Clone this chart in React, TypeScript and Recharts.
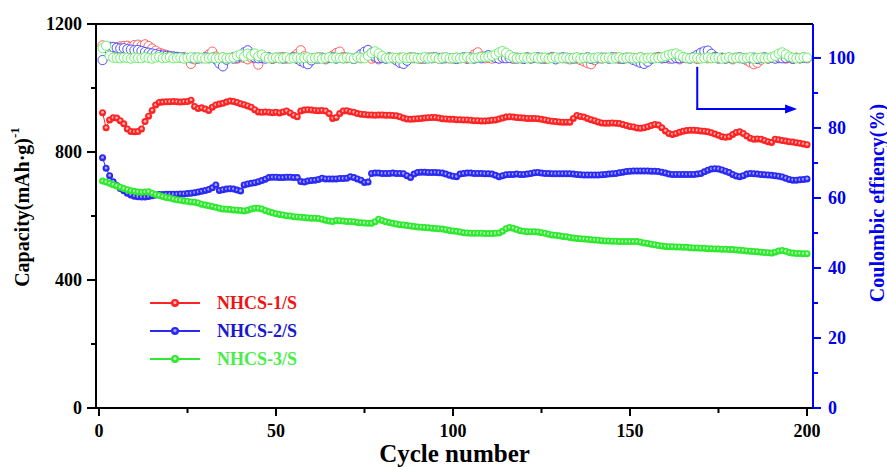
import React from 'react';
import { LineChart, Line, XAxis, YAxis, ReferenceLine, Legend } from 'recharts';

const FONT = "'Liberation Serif', 'Times New Roman', 'DejaVu Serif', serif";

// cycle numbers (x categories)
const cycles = Array.from({ length: 200 }, (_, i) => i + 1);

// discharge capacity, mAh/g
const cap1 = [
  923, 876, 900, 907, 906, 898, 888, 872, 864, 863,
  864, 872, 895, 912, 930, 947, 955, 956, 957, 957,
  958, 957, 956, 957, 958, 962, 942, 936, 938, 934,
  930, 940, 947, 950, 952, 956, 959, 958, 955, 951,
  948, 944, 940, 932, 925, 924, 925, 924, 923, 924,
  922, 925, 928, 922, 915, 910, 928, 931, 932, 931,
  930, 929, 930, 928, 920, 905, 908, 920, 928, 929,
  926, 924, 920, 918, 917, 916, 916, 915, 916, 916,
  915, 915, 914, 913, 910, 906, 903, 902, 903, 904,
  905, 906, 907, 908, 908, 906, 904, 903, 902, 902,
  901, 901, 900, 900, 899, 898, 898, 897, 897, 898,
  899, 900, 903, 906, 909, 910, 909, 908, 907, 906,
  905, 905, 905, 904, 902, 900, 898, 896, 895, 894,
  893, 893, 893, 905, 914, 911, 909, 905, 901, 898,
  894, 891, 890, 890, 891, 890, 889, 886, 883, 880,
  878, 875, 874, 876, 879, 883, 886, 884, 876, 866,
  858, 855, 858, 862, 865, 867, 868, 868, 867, 866,
  865, 863, 860, 856, 852, 848, 846, 848, 855, 861,
  863, 858, 850, 843, 840, 841, 840, 836, 832, 830,
  840, 838, 836, 834, 832, 831, 829, 827, 825, 823,
];
const cap2 = [
  782, 749, 726, 707, 695, 686, 679, 671, 666, 662,
  660, 659, 659, 661, 663, 666, 667, 667, 668, 668,
  668, 668, 669, 669, 670, 671, 673, 675, 677, 680,
  683, 688, 697, 680, 682, 684, 685, 684, 681, 678,
  697, 700, 702, 704, 707, 711, 715, 720, 721, 721,
  720, 720, 721, 721, 720, 720, 708, 706, 709, 711,
  712, 714, 718, 716, 716, 716, 716, 717, 717, 718,
  723, 720, 716, 712, 705, 706, 733, 734, 734, 733,
  733, 733, 734, 733, 733, 732, 726, 720, 731, 736,
  737, 737, 736, 736, 736, 735, 734, 731, 727, 724,
  723, 731, 733, 734, 734, 733, 733, 733, 732, 732,
  731, 727, 723, 726, 729, 730, 730, 731, 730, 730,
  731, 733, 735, 736, 734, 733, 733, 732, 732, 732,
  732, 732, 732, 731, 730, 729, 728, 728, 728, 728,
  728, 729, 730, 731, 732, 733, 735, 737, 739, 740,
  741, 741, 741, 741, 741, 740, 740, 739, 737, 734,
  731, 730, 730, 730, 730, 730, 730, 730, 731, 733,
  738, 743, 747, 748, 747, 744, 740, 736, 730, 725,
  723, 726, 731, 733, 732, 731, 730, 729, 728, 727,
  726, 724, 722, 718, 714, 712, 712, 713, 714, 716,
];
const cap3 = [
  709, 706, 702, 698, 694, 690, 686, 682, 679, 677,
  675, 674, 675, 676, 671, 667, 664, 661, 658, 656,
  653, 651, 649, 647, 646, 644, 643, 641, 637, 634,
  632, 630, 627, 624, 622, 621, 620, 619, 618, 617,
  616, 618, 622, 624, 624, 622, 617, 613, 610, 607,
  605, 603, 601, 600, 598, 597, 596, 595, 594, 593,
  593, 592, 590, 587, 584, 583, 586, 585, 584, 583,
  583, 582, 580, 579, 578, 577, 577, 582, 590, 586,
  582, 580, 577, 575, 573, 572, 570, 569, 567, 566,
  565, 564, 563, 562, 561, 560, 559, 557, 555, 553,
  552, 550, 548, 547, 546, 546, 546, 546, 545, 545,
  545, 546, 547, 552, 560, 564, 562, 558, 554, 552,
  551, 551, 551, 550, 548, 546, 543, 541, 540, 538,
  536, 535, 533, 531, 530, 529, 528, 527, 526, 525,
  524, 523, 522, 522, 521, 521, 520, 520, 520, 520,
  520, 520, 518, 516, 514, 512, 510, 508, 506, 505,
  504, 504, 503, 503, 502, 502, 501, 500, 500, 499,
  499, 498, 498, 497, 497, 496, 496, 495, 495, 494,
  493, 492, 491, 490, 489, 488, 487, 486, 485, 484,
  487, 491, 492, 490, 486, 484, 483, 483, 482, 482,
];

// coulombic efficiency, %
const ce1 = [
  103.6, 102.8, 102.6, 102.9, 103.1, 103.3, 103.4, 103.5, 103.2, 103.7,
  103.8, 103.5, 103.9, 103.4, 102.7, 102.1, 101.5, 101.2, 100.9, 100.6,
  100.4, 100.3, 100.1, 100.2, 99.8, 98.3, 99.6, 100.1, 99.9, 100.2,
  101.0, 101.8, 100.4, 99.9, 100.1, 99.7, 100.0, 100.3, 99.8, 100.2,
  100.0, 99.6, 100.1, 99.8, 98.1, 99.9, 100.2, 100.0, 99.7, 100.1,
  99.9, 100.3, 99.8, 100.0, 100.4, 101.2, 102.2, 100.5, 99.7, 100.0,
  99.8, 100.2, 100.0, 99.6, 100.1, 100.7, 101.4, 101.8, 100.3, 99.9,
  100.0, 99.7, 100.2, 99.9, 100.1, 100.3, 99.8, 100.0, 99.6, 100.1,
  99.9, 100.2, 100.0, 99.8, 100.1, 99.7, 100.0, 100.2, 99.9, 100.0,
  99.7, 100.1, 99.9, 100.2, 100.0, 99.8, 100.1, 99.9, 100.0, 99.8,
  100.1, 99.9, 100.0, 99.7, 100.2, 101.0, 101.6, 100.4, 99.9, 100.0,
  99.8, 100.1, 100.0, 99.9, 100.2, 100.0, 99.7, 100.1, 99.9, 100.0,
  100.2, 99.8, 100.0, 99.9, 100.1, 99.7, 100.0, 100.3, 99.8, 100.0,
  99.9, 100.1, 99.6, 100.0, 99.8, 99.4, 99.0, 98.5, 98.2, 99.4,
  100.0, 99.8, 100.1, 99.9, 100.0, 100.2, 99.7, 100.0, 99.9, 100.1,
  100.0, 99.8, 100.2, 99.9, 100.0, 99.7, 100.1, 100.3, 99.9, 100.0,
  99.8, 100.1, 100.0, 99.6, 100.2, 99.9, 100.0, 100.1, 99.7, 100.0,
  100.2, 99.9, 100.0, 100.4, 99.8, 100.1, 99.9, 100.0, 99.6, 100.1,
  99.9, 100.0, 99.3, 98.7, 98.2, 98.6, 99.5, 100.0, 99.8, 100.1,
  100.0, 99.9, 100.2, 99.8, 100.0, 99.7, 100.1, 99.9, 100.0, 99.9,
];
const ce2 = [
  99.4, 102.8, 103.2, 103.1, 102.9, 102.7, 102.8, 102.5, 102.4, 102.2,
  102.3, 102.0, 101.7, 101.5, 101.3, 101.1, 100.9, 100.7, 100.6, 100.5,
  100.4, 100.3, 100.2, 100.1, 100.0, 99.9, 100.1, 99.8, 100.0, 100.2,
  99.9, 100.1, 99.6, 98.4, 97.6, 99.5, 100.0, 99.8, 100.1, 100.5,
  101.6, 102.2, 101.0, 100.1, 99.9, 100.0, 99.8, 100.2, 99.9, 100.0,
  100.1, 99.8, 100.0, 99.9, 100.2, 99.7, 99.1, 98.6, 98.2, 99.3,
  100.0, 99.8, 100.1, 99.9, 100.0, 100.2, 99.8, 100.0, 99.9, 100.1,
  100.0, 99.7, 100.3, 101.1, 101.8, 102.3, 101.5, 100.4, 99.9, 100.0,
  99.8, 100.1, 99.9, 99.3, 98.6, 98.3, 99.2, 100.0, 100.1, 99.9,
  100.0, 99.8, 100.1, 99.9, 100.2, 100.0, 99.8, 100.1, 99.9, 100.0,
  99.7, 100.0, 100.2, 99.9, 100.1, 99.8, 100.0, 99.9, 100.4, 100.8,
  100.5, 100.0, 99.8, 100.1, 99.9, 100.0, 100.2, 99.8, 100.0, 99.7,
  100.1, 99.9, 100.0, 100.2, 99.8, 100.0, 99.9, 100.1, 99.6, 100.0,
  100.2, 99.9, 100.0, 99.8, 100.1, 99.9, 100.0, 100.2, 99.7, 100.0,
  99.9, 100.1, 100.0, 99.8, 100.2, 99.9, 100.0, 99.7, 100.1, 99.9,
  99.4, 99.0, 98.6, 98.3, 98.9, 99.8, 100.0, 100.1, 99.9, 100.0,
  100.2, 99.8, 100.0, 99.9, 100.1, 100.0, 99.8, 100.3, 100.9, 101.5,
  101.9, 102.1, 101.2, 100.3, 99.9, 100.0, 99.8, 100.1, 99.9, 100.0,
  100.2, 99.8, 100.0, 99.9, 100.1, 99.7, 100.0, 100.2, 99.9, 100.0,
  99.8, 100.1, 99.9, 100.0, 100.2, 99.8, 100.0, 99.9, 100.1, 100.0,
];
const ce3 = [
  102.8, 103.5, 100.6, 100.1, 100.0, 99.9, 100.1, 100.0, 99.8, 100.1,
  100.0, 99.9, 100.2, 100.0, 99.8, 100.1, 100.3, 99.9, 100.0, 100.2,
  99.9, 100.0, 100.1, 99.8, 100.0, 100.2, 99.9, 100.1, 100.0, 99.8,
  100.0, 100.1, 99.9, 100.0, 100.2, 99.9, 100.0, 100.1, 100.6, 101.0,
  100.4, 101.2, 100.7, 101.3, 100.5, 101.0, 100.3, 99.9, 100.0, 100.1,
  99.9, 100.0, 100.2, 99.8, 100.0, 100.1, 99.9, 100.0, 100.2, 99.9,
  100.0, 100.1, 99.8, 100.0, 100.2, 99.9, 100.1, 100.0, 99.9, 100.1,
  100.0, 99.8, 100.2, 100.0, 99.9, 100.6, 101.4, 101.9, 101.3, 100.6,
  100.0, 99.9, 100.1, 100.0, 99.8, 100.2, 99.9, 100.0, 100.1, 99.9,
  100.0, 100.2, 99.9, 100.0, 100.1, 99.8, 100.0, 100.2, 99.9, 100.0,
  100.1, 99.9, 100.0, 100.2, 99.8, 100.0, 100.1, 100.3, 100.2, 100.4,
  100.6, 101.0, 101.6, 102.0, 101.5, 100.8, 100.2, 99.9, 100.0, 100.1,
  99.9, 100.0, 100.2, 99.9, 100.0, 100.1, 99.8, 100.0, 100.2, 99.9,
  100.0, 100.1, 99.9, 100.0, 100.2, 99.8, 100.0, 100.1, 99.9, 100.0,
  100.2, 99.9, 100.0, 100.1, 99.8, 100.0, 100.2, 99.9, 100.0, 100.1,
  99.9, 100.0, 100.2, 99.8, 100.0, 100.1, 99.9, 100.0, 100.2, 100.5,
  100.9, 101.1, 101.3, 100.8, 100.3, 100.0, 99.9, 100.1, 100.0, 99.8,
  100.0, 100.2, 99.9, 100.0, 100.1, 99.8, 100.0, 100.2, 99.9, 100.0,
  100.1, 99.9, 100.0, 100.2, 99.8, 100.0, 100.1, 99.9, 100.0, 100.2,
  100.6, 101.2, 101.6, 101.0, 100.4, 100.1, 99.9, 100.0, 100.2, 100.1,
];

const xTicks = [0, 25, 50, 75, 100, 125, 150, 175, 200];
const capTicks = [0, 200, 400, 600, 800, 1000, 1200];
const ceTicks = [0, 10, 20, 30, 40, 50, 60, 70, 80, 90, 100];

const series = [
  { name: 'NHCS-1/S', cap: 'c1', ce: 'e1', color: '#ff2424', light: '#ffb8b8', ring: '#ff6060', text: '#ee1414' },
  { name: 'NHCS-2/S', cap: 'c2', ce: 'e2', color: '#2a2af2', light: '#a8a8ff', ring: '#5050ff', text: '#1818cc' },
  { name: 'NHCS-3/S', cap: 'c3', ce: 'e3', color: '#30e830', light: '#c0ffc0', ring: '#70ee70', text: '#48ee48' },
];

const data = cycles.map((c, i) => ({
  cycle: c,
  c1: cap1[i], c2: cap2[i], c3: cap3[i],
  e1: ce1[i], e2: ce2[i], e3: ce3[i],
}));

const sphereDot = (color: string, light: string) => (p: any) => {
  if (p.cx == null || p.cy == null) return <g key={p.index} />;
  return (
    <g key={`s-${p.index}`}>
      <circle cx={p.cx} cy={p.cy} r={3.5} fill={color} />
      <circle cx={p.cx} cy={p.cy - 0.3} r={1.4} fill={light} />
    </g>
  );
};

const ringDot = (color: string) => (p: any) => {
  if (p.cx == null || p.cy == null) return <g key={p.index} />;
  return <circle key={`r-${p.index}`} cx={p.cx} cy={p.cy} r={4.6} fill="#fff" stroke={color} strokeWidth={1} />;
};

const BottomTick = ({ x, y, payload }: any) => {
  const major = payload.value % 50 === 0;
  return (
    <g>
      <line x1={x} y1={y} x2={x} y2={y + (major ? 8 : 5)} stroke="#000" strokeWidth={2} />
      {major && (
        <text x={x} y={y + 29} textAnchor="middle" style={{ fontFamily: FONT }} fontWeight="bold" fontSize={18} fill="#000">
          {payload.value}
        </text>
      )}
    </g>
  );
};

const LeftTick = ({ x, y, payload }: any) => {
  const major = payload.value % 400 === 0;
  return (
    <g>
      <line x1={x - (major ? 9 : 5)} y1={y} x2={x} y2={y} stroke="#000" strokeWidth={2} />
      {major && (
        <text x={x - 14} y={y + 6} textAnchor="end" style={{ fontFamily: FONT }} fontWeight="bold" fontSize={18} fill="#000">
          {payload.value}
        </text>
      )}
    </g>
  );
};

const RightTick = ({ x, y, payload }: any) => {
  const major = payload.value % 20 === 0;
  return (
    <g>
      <line x1={x} y1={y} x2={x + (major ? 8 : 5)} y2={y} stroke="#0000ff" strokeWidth={2} />
      {major && (
        <text x={x + 15} y={y + 6} textAnchor="start" style={{ fontFamily: FONT }} fontWeight="bold" fontSize={18} fill="#0000ee">
          {payload.value}
        </text>
      )}
    </g>
  );
};

const XTitle = (props: any) => {
  const vb = props.viewBox || { x: 96, y: 408, width: 717, height: 59 };
  return (
    <text x={vb.x + vb.width / 2} y={vb.y + 54} textAnchor="middle" style={{ fontFamily: FONT }} fontWeight="bold" fontSize={25} fill="#000">
      Cycle number
    </text>
  );
};

const LeftTitle = (props: any) => {
  const vb = props.viewBox || { x: 0, y: 24, width: 96, height: 384 };
  const cx = vb.x + 22;
  const cy = vb.y + vb.height / 2 - 9;
  return (
    <text x={cx} y={cy} transform={`rotate(-90, ${cx}, ${cy})`} textAnchor="middle" dominantBaseline="central"
      style={{ fontFamily: FONT }} fontWeight="bold" fontSize={20} fill="#000">
      Capacity(mAh·g)<tspan dy={-8} fontSize={13}>-1</tspan>
    </text>
  );
};

const RightTitle = (props: any) => {
  const vb = props.viewBox || { x: 813, y: 24, width: 74, height: 384 };
  const cx = vb.x + 64;
  const cy = vb.y + vb.height / 2 - 13;
  return (
    <text x={cx} y={cy} transform={`rotate(-90, ${cx}, ${cy})`} textAnchor="middle" dominantBaseline="central"
      style={{ fontFamily: FONT }} fontWeight="bold" fontSize={20} fill="#0000ee">
      Coulombic effiency(%)
    </text>
  );
};

const LegendBox = () => (
  <svg width={170} height={90} style={{ display: 'block' }}>
    {series.map((s, i) => {
      const y = 18 + i * 28;
      return (
        <g key={s.name}>
          <line x1={10} y1={y} x2={60} y2={y} stroke={s.color} strokeWidth={2} />
          <circle cx={35} cy={y} r={4} fill={s.color} />
          <circle cx={35} cy={y - 0.4} r={1.6} fill={s.light} />
          <text x={77} y={y + 6} style={{ fontFamily: FONT }} fontWeight="bold" fontSize={18} fill={s.text}>
            {s.name}
          </text>
        </g>
      );
    })}
  </svg>
);

// L-shaped arrow pointing to the right axis
const arrowHead = (p: any) => {
  const { x1, y1, x2, y2 } = p;
  return (
    <g>
      <line x1={x1} y1={y1} x2={x2 - 8} y2={y2} stroke="#0000ff" strokeWidth={2} />
      <polygon points={`${x2},${y2} ${x2 - 12},${y2 - 4.5} ${x2 - 12},${y2 + 4.5}`} fill="#0000ff" />
    </g>
  );
};

export default function App() {
  return (
    <div style={{ position: 'absolute', left: 0, top: 0, background: '#fff', fontFamily: FONT }}>
      <LineChart width={887} height={467} data={data} margin={{ top: 24, right: 0, bottom: 0, left: 0 }}>
        <XAxis
          dataKey="cycle"
          type="number"
          domain={[-0.85, 201.7]}
          allowDataOverflow
          ticks={xTicks}
          interval={0}
          height={59}
          tickSize={0}
          tickMargin={0}
          tickLine={false}
          tick={<BottomTick />}
          axisLine={{ stroke: '#000', strokeWidth: 2 }}
          label={XTitle}
        />
        <YAxis
          yAxisId="left"
          domain={[0, 1200]}
          ticks={capTicks}
          interval={0}
          width={96}
          tickSize={0}
          tickMargin={0}
          tickLine={false}
          tick={<LeftTick />}
          axisLine={{ stroke: '#000', strokeWidth: 2 }}
          label={LeftTitle}
        />
        <YAxis
          yAxisId="right"
          orientation="right"
          domain={[0, 109.7]}
          allowDataOverflow
          ticks={ceTicks}
          interval={0}
          width={74}
          tickSize={0}
          tickMargin={0}
          tickLine={false}
          tick={<RightTick />}
          axisLine={{ stroke: '#0000ff', strokeWidth: 2 }}
          label={RightTitle}
        />
        <ReferenceLine yAxisId="left" y={1200} stroke="#000" strokeWidth={2} />
        <Legend layout="vertical" align="center" verticalAlign="middle" content={LegendBox}
          wrapperStyle={{ left: 140, top: 285, width: 170, height: 90 }} />
        {series.map((s) => (
          <Line
            key={s.cap}
            yAxisId="left"
            dataKey={s.cap}
            name={s.name}
            stroke={s.color}
            strokeWidth={1}
            dot={sphereDot(s.color, s.light)}
            activeDot={false}
            isAnimationActive={false}
          />
        ))}
        {series.map((s) => (
          <Line
            key={s.ce}
            yAxisId="right"
            dataKey={s.ce}
            legendType="none"
            stroke="none"
            dot={ringDot(s.ring)}
            activeDot={false}
            isAnimationActive={false}
          />
        ))}
        <ReferenceLine
          yAxisId="left"
          segment={[{ x: 169, y: 1066 }, { x: 169, y: 934 }]}
          stroke="#0000ff"
          strokeWidth={2}
        />
        <ReferenceLine
          yAxisId="left"
          segment={[{ x: 168.7, y: 934 }, { x: 197.2, y: 934 }]}
          shape={arrowHead}
        />
      </LineChart>
    </div>
  );
}
